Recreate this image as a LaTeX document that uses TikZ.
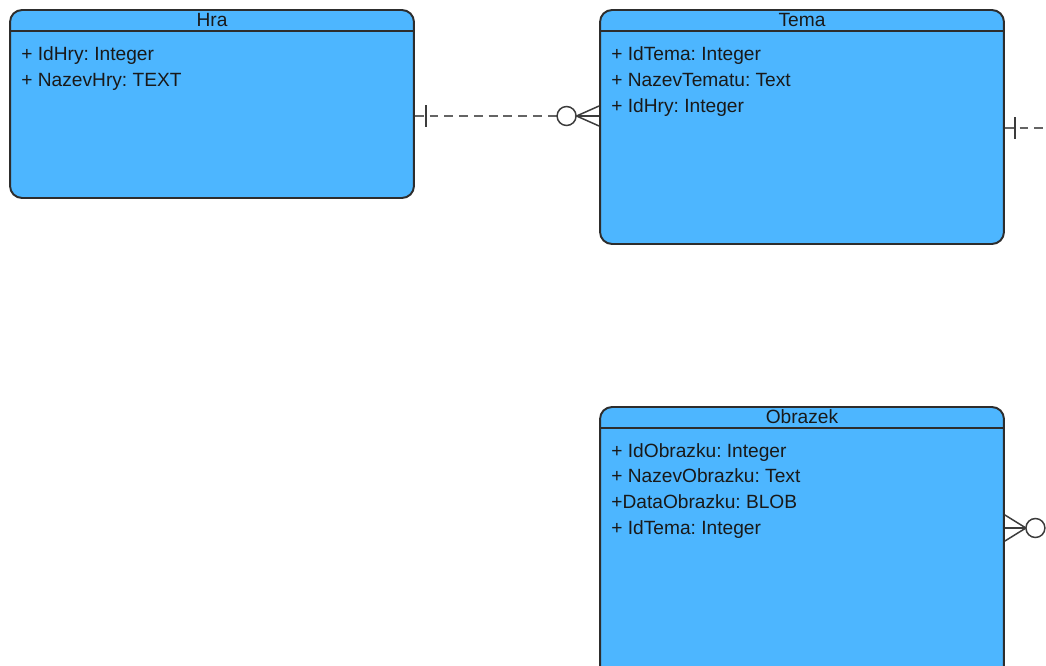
\documentclass[tikz,border=0pt]{standalone}
\usepackage{fontspec}
\setmainfont{Liberation Sans}
\usetikzlibrary{calc}
\frenchspacing

\definecolor{entityblue}{RGB}{77,182,255}
\definecolor{edgegray}{RGB}{45,45,45}
\definecolor{relgray}{RGB}{100,100,100}

\tikzset{
  entity/.style={draw=edgegray, line width=1.1pt, fill=entityblue, rounded corners=6.8pt,
                 minimum width=8.08cm, inner sep=0pt},
  entityline/.style={draw=edgegray, line width=1.1pt},
  title/.style={inner sep=0pt, text height=8pt, text depth=2pt, text=black!90,
                font=\fontsize{10.9pt}{12pt}\selectfont},
  attr/.style={inner sep=0pt, anchor=west, text height=8pt, text depth=2pt, text=black!90,
               font=\fontsize{10.9pt}{12pt}\selectfont},
  relation/.style={draw=relgray, line width=0.85pt, dash pattern=on 5pt off 3.4pt},
  notation/.style={draw=relgray!60!black, line width=0.85pt}
}

\begin{document}
\begin{tikzpicture}[x=0.02cm, y=-0.02cm]
  \useasboundingbox (0,0) rectangle (1046,666);
  \clip (0,0) rectangle (1046,666);

  % entity boxes
  \node [entity, minimum height=3.76cm] (hra) at (212,104) {};
  \node [entity, minimum height=4.68cm] (tema) at (802,127) {};
  \node [entity, minimum height=5.6cm] (obrazek) at (802,547) {};

  % header lines and titles
  \foreach \e/\t in {hra/Hra, tema/Tema, obrazek/Obrazek} {
    \draw [entityline] ($(\e.north west)+(0,22)$) -- ($(\e.north east)+(0,22)$);
    \node [title] (\e-title) at ($(\e.north)+(0,12)$) {\t};
  }

  % attributes
  \foreach \a [count=\i] in {+ IdHry: Integer, + NazevHry: TEXT}
    \node [attr] (hra-a\i) at ($(hra.north west)+(12,{26*\i+20})$) {\a};
  \foreach \a [count=\i] in {+ IdTema: Integer, + NazevTematu: Text, + IdHry: Integer}
    \node [attr] (tema-a\i) at ($(tema.north west)+(12,{26*\i+20})$) {\a};
  \foreach \a [count=\i] in {+ IdObrazku: Integer, + NazevObrazku: Text, +DataObrazku: BLOB, + IdTema: Integer}
    \node [attr] (obrazek-a\i) at ($(obrazek.north west)+(12,{25.7*\i+20})$) {\a};

  % ports and free ends
  \coordinate (hraOut) at ($(hra.east)+(0,12)$);
  \coordinate (temaIn) at ($(tema.west)+(0,-11)$);
  \coordinate (temaOut) at ($(tema.east)+(0,1)$);
  \coordinate (temaEnd) at ($(temaOut)+(80,0)$);
  \coordinate (obrazekOut) at ($(obrazek.east)+(0,-19)$);
  \coordinate (obrazekEnd) at ($(obrazekOut)+(80,0)$);

  % Hra -- Tema : one to zero-or-many
  \draw [relation] (hraOut) -- (temaIn);
  \draw [notation] ($(hraOut)+(11,-11)$) -- ($(hraOut)+(11,11)$);
  \draw [notation, fill=white] ($(temaIn)+(-32.5,0)$) circle [radius=0.19cm];
  \draw [notation] ($(temaIn)+(-22.5,0)$) -- (temaIn);
  \draw [notation] ($(temaIn)+(0,-10)$) -- ($(temaIn)+(-22.5,0)$) -- ($(temaIn)+(0,10)$);

  % Tema -- off to the right
  \draw [relation] (temaOut) -- (temaEnd);
  \draw [notation] ($(temaOut)+(10,-11)$) -- ($(temaOut)+(10,11)$);

  % Obrazek -- off to the right
  \draw [relation] (obrazekOut) -- (obrazekEnd);
  \draw [notation] (obrazekOut) -- ($(obrazekOut)+(21,0)$);
  \draw [notation] ($(obrazekOut)+(0,-13)$) -- ($(obrazekOut)+(21,0)$) -- ($(obrazekOut)+(0,13)$);
  \draw [notation, fill=white] ($(obrazekOut)+(30.5,0)$) circle [radius=0.19cm];
\end{tikzpicture}
\end{document}
